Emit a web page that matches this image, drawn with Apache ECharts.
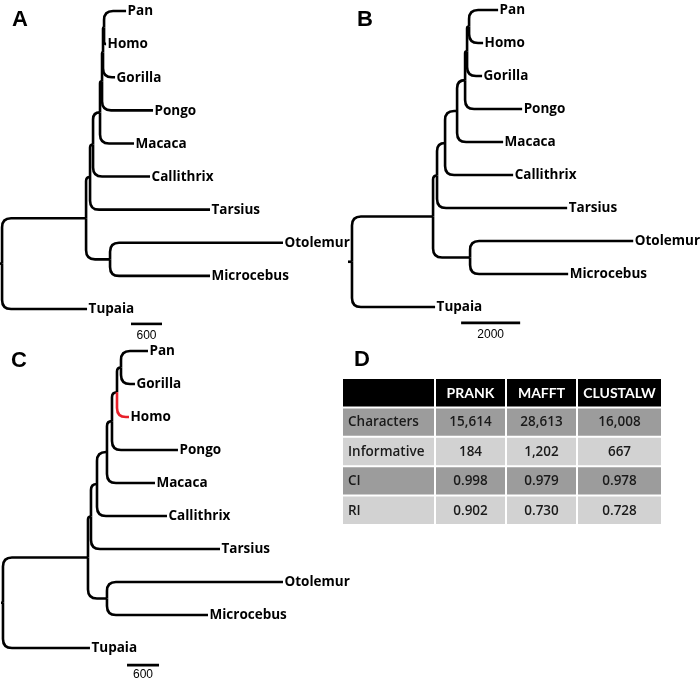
<!DOCTYPE html>
<html><head><meta charset="utf-8">
<script src="https://cdn.jsdelivr.net/npm/echarts@6/dist/echarts.min.js"></script>
<style>html,body{margin:0;padding:0;background:#fff}#c{width:700px;height:683px}</style>
</head><body><div id="c"></div>
<script>
// ================= DATA =================
const leafOrderAB = ['Pan','Homo','Gorilla','Pongo','Macaca','Callithrix','Tarsius','Otolemur','Microcebus','Tupaia'];
const leafOrderC  = ['Pan','Gorilla','Homo','Pongo','Macaca','Callithrix','Tarsius','Otolemur','Microcebus','Tupaia'];

// [node, parent, branch length]
const branchesA = [
  ['Root', null, 40],
  ['Primates','Root',1626], ['Tupaia','Root',1645],
  ['Haplorhini','Primates',77], ['Strepsirrhini','Primates',464],
  ['Otolemur','Strepsirrhini',3347], ['Microcebus','Strepsirrhini',1935],
  ['Anthropoidea','Haplorhini',58], ['Tarsius','Haplorhini',2322],
  ['Catarrhini','Anthropoidea',135], ['Callithrix','Anthropoidea',1103],
  ['Hominidae','Catarrhini',39], ['Macaca','Catarrhini',658],
  ['Homininae','Hominidae',19], ['Pongo','Hominidae',987],
  ['PanHomo','Homininae',20], ['Gorilla','Homininae',233],
  ['Pan','PanHomo',426], ['Homo','PanHomo',39]
];
const branchesB = [
  ['Root', null, 135],
  ['Primates','Root',2746], ['Tupaia','Root',2814],
  ['Haplorhini','Primates',135], ['Strepsirrhini','Primates',1254],
  ['Otolemur','Strepsirrhini',5526], ['Microcebus','Strepsirrhini',3322],
  ['Anthropoidea','Haplorhini',272], ['Tarsius','Haplorhini',4407],
  ['Catarrhini','Anthropoidea',407], ['Callithrix','Anthropoidea',2305],
  ['Hominidae','Catarrhini',271], ['Macaca','Catarrhini',1559],
  ['Homininae','Hominidae',67], ['Pongo','Hominidae',1932],
  ['PanHomo','Homininae',68], ['Gorilla','Homininae',509],
  ['Pan','PanHomo',983], ['Homo','PanHomo',475]
];
const branchesC = [
  ['Root', null, 37],
  ['Primates','Root',1594], ['Tupaia','Root',1631],
  ['Haplorhini','Primates',56], ['Strepsirrhini','Primates',356],
  ['Otolemur','Strepsirrhini',3300], ['Microcebus','Strepsirrhini',1894],
  ['Anthropoidea','Haplorhini',113], ['Tarsius','Haplorhini',2419],
  ['Catarrhini','Anthropoidea',187], ['Callithrix','Anthropoidea',1312],
  ['Hominidae','Catarrhini',94], ['Macaca','Catarrhini',900],
  ['Homininae','Hominidae',94], ['Pongo','Hominidae',1237],
  ['PanGorilla','Homininae',75], ['Pan','PanGorilla',506], ['Gorilla','PanGorilla',262],
  ['Homo','Homininae',225]
];
const highlightC = ['Homo'];
const scaleBarA = 600, scaleBarB = 2000, scaleBarC = 600;

const tableColumns = ['', 'PRANK', 'MAFFT', 'CLUSTALW'];
const tableRows = ['Characters', 'Informative', 'CI', 'RI'];
const valuesPRANK    = ['15,614', '184',   '0.998', '0.902'];
const valuesMAFFT    = ['28,613', '1,202', '0.979', '0.730'];
const valuesCLUSTALW = ['16,008', '667',   '0.978', '0.728'];

// ================= LAYOUT / STYLE =================
const LW = 2.6, R = 9, RED = '#e8202a';
const LABEL_FONT = 'Open Sans';
const panels = [
  {grid:{left:0,   top:11,  width:310, height:298}, xMax:6000,  bar:{start:2535, row:9.45, gap:12}},
  {grid:{left:348, top:10,  width:310, height:297}, xMax:10500, bar:{start:3831, row:9.48, gap:12}},
  {grid:{left:1,   top:351, width:320, height:297}, xMax:6000,  bar:{start:2363, row:9.52, gap:10}}
];
const tableGrid = {left:342, top:378, width:320, height:147};
const colEdges = [0, 93, 164, 235, 320];

function layoutTree(branches, leafOrder) {
  const nodes = {};
  branches.forEach(([n, p, l]) => nodes[n] = {name:n, parent:p, len:l, children:[]});
  branches.forEach(([n, p]) => { if (p) nodes[p].children.push(nodes[n]); });
  const root = nodes[branches.find(b => b[1] === null)[0]];
  (function depth(nd, d) { nd.x = d + nd.len; nd.children.forEach(c => depth(c, nd.x)); })(root, 0);
  (function yc(nd) {
    if (!nd.children.length) { nd.y = leafOrder.indexOf(nd.name); return nd.y; }
    const ys = nd.children.map(yc);
    nd.y = (Math.min(...ys) + Math.max(...ys)) / 2; return nd.y;
  })(root);
  return branches.map(([n, p]) => {
    const nd = nodes[n], pa = p ? nodes[p] : null;
    return {name:n, leaf:!nd.children.length,
      value:[pa ? pa.x : 0, pa ? pa.y : nd.y, nd.x, nd.y]};
  });
}

function treeSeries(idx, edges, highlight) {
  const ordered = edges.filter(e => !highlight.includes(e.name)).concat(edges.filter(e => highlight.includes(e.name)));
  return {
    type:'custom', xAxisIndex:idx, yAxisIndex:idx, silent:true, clip:false,
    data: ordered.map(e => e.value),
    renderItem(params, api) {
      const e = ordered[params.dataIndex];
      const p = api.coord([api.value(0), api.value(1)]);
      const c = api.coord([api.value(2), api.value(3)]);
      const dy = c[1] - p[1], dx = c[0] - p[0];
      let d;
      if (Math.abs(dy) < 0.5) d = `M${p[0]},${c[1]}L${c[0]},${c[1]}`;
      else {
        const r = Math.max(0, Math.min(R, Math.abs(dy), dx));
        const s = dy > 0 ? 1 : -1;
        d = `M${p[0]},${p[1]}L${p[0]},${c[1] - s * r}Q${p[0]},${c[1]} ${p[0] + r},${c[1]}L${c[0]},${c[1]}`;
      }
      const color = highlight.includes(e.name) ? RED : '#000';
      const children = [{type:'path', shape:{pathData:d},
        style:{stroke:color, lineWidth:LW, fill:'none', lineCap:'butt', lineJoin:'round'}}];
      if (e.leaf) children.push({type:'text', x:c[0] + 1.5, y:c[1] + 0.5,
        style:{text:e.name, fontFamily:LABEL_FONT, fontWeight:'bold', fontSize:13.5, fill:'#000',
               align:'left', verticalAlign:'middle'}});
      return {type:'group', children};
    }
  };
}

function scaleSeries(idx, len, bar) {
  return {
    type:'custom', xAxisIndex:idx, yAxisIndex:idx, silent:true, clip:false,
    data:[[len]],
    renderItem(params, api) {
      const a = api.coord([bar.start, bar.row]);
      const b = api.coord([bar.start + api.value(0), bar.row]);
      return {type:'group', children:[
        {type:'line', shape:{x1:a[0], y1:a[1], x2:b[0], y2:b[1]}, style:{stroke:'#000', lineWidth:LW}},
        {type:'text', x:(a[0] + b[0]) / 2, y:a[1] + bar.gap,
          style:{text:String(api.value(0)), fontFamily:'Liberation Sans', fontSize:12, fill:'#000',
                 align:'center', verticalAlign:'middle'}}
      ]};
    }
  };
}

const edgesA = layoutTree(branchesA, leafOrderAB);
const edgesB = layoutTree(branchesB, leafOrderAB);
const edgesC = layoutTree(branchesC, leafOrderC);

const tableCols = [tableRows, valuesPRANK, valuesMAFFT, valuesCLUSTALW];
const cells = [];
tableColumns.forEach((h, c) => cells.push({c, r:0, text:h}));
tableRows.forEach((_, r) => tableCols.forEach((col, c) => cells.push({c, r:r + 1, text:col[r]})));

const tableSeries = {
  type:'custom', xAxisIndex:3, yAxisIndex:3, silent:true, clip:false,
  data: cells.map(o => [o.c, o.r]),
  renderItem(params, api) {
    const o = cells[params.dataIndex];
    const row = api.value(1), col = api.value(0);
    const x0 = api.coord([colEdges[col], row])[0] + 1;
    const x1 = api.coord([colEdges[col + 1], row])[0] - 1;
    const cy = api.coord([0, row])[1];
    const band = api.size([0, 1])[1];
    const fill = row === 0 ? '#000' : (row % 2 === 1 ? '#9c9c9c' : '#d2d2d2');
    const header = row === 0;
    return {type:'group', children:[
      {type:'rect', shape:{x:x0, y:cy - band / 2 + 1, width:x1 - x0, height:band - 2}, style:{fill}},
      {type:'text', x: col === 0 ? x0 + 5 : (x0 + x1) / 2, y: cy + 0.5,
        style:{text:o.text, fontFamily: header ? 'Lato' : 'Open Sans', fontSize: header ? 14 : 13.5,
               fontWeight: header ? 'bold' : 600,
               fill: header ? '#fff' : '#1a1a1a', align: col === 0 ? 'left' : 'center', verticalAlign:'middle'}}
    ]};
  }
};

const grids = panels.map(p => p.grid).concat([tableGrid]);
const option = {
  animation:false,
  backgroundColor:'#fff',
  grid: grids.map(g => Object.assign({containLabel:false}, g)),
  xAxis: panels.map((p, i) => ({type:'value', gridIndex:i, min:0, max:p.xMax, show:false}))
    .concat([{type:'value', gridIndex:3, min:0, max:320, show:false}]),
  yAxis: panels.map((p, i) => ({type:'value', gridIndex:i, min:0, max:9, inverse:true, show:false}))
    .concat([{type:'category', gridIndex:3, data:['header'].concat(tableRows), inverse:true, show:false}]),
  graphic: [
    ['A', 12, 20], ['B', 357, 20], ['C', 11, 361], ['D', 354, 360]
  ].map(([t, x, y]) => ({type:'text', x, y, silent:true,
    style:{text:t, fontFamily:'Liberation Sans', fontWeight:'bold', fontSize:22, fill:'#000', verticalAlign:'middle'}})),
  series: [
    treeSeries(0, edgesA, []), scaleSeries(0, scaleBarA, panels[0].bar),
    treeSeries(1, edgesB, []), scaleSeries(1, scaleBarB, panels[1].bar),
    treeSeries(2, edgesC, highlightC), scaleSeries(2, scaleBarC, panels[2].bar),
    tableSeries
  ]
};
const chart = echarts.init(document.getElementById('c'), null, {renderer:'canvas'});
chart.setOption(option);
</script>
</body></html>
